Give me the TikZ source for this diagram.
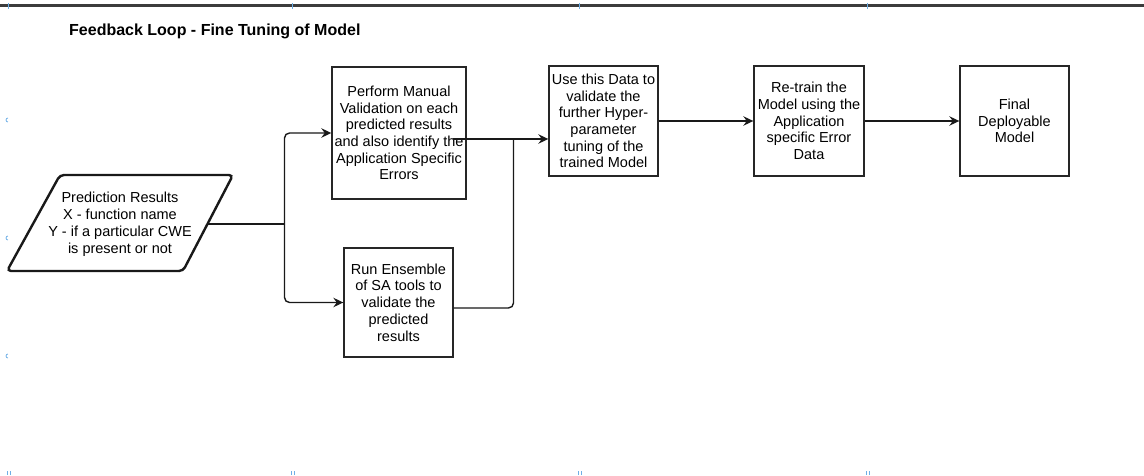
\documentclass[tikz,border=0pt]{standalone}
\usepackage{fontspec}
\setmainfont{Liberation Sans}
\usetikzlibrary{arrows.meta}

\definecolor{tickblue}{RGB}{110,175,230}
\definecolor{rulegray}{RGB}{60,60,60}

\tikzset{
  flowbox/.style={draw=black!85, line width=1.4pt, align=center, inner sep=0pt,
    font=\fontsize{14.5}{16.7}\selectfont},
  link/.style={draw=black!90, line width=1.4pt},
  flowarrow/.style={link, -{Stealth[length=10pt,width=9.5pt,inset=3.5pt]}},
  pagetick/.style={draw=tickblue, line width=0.8pt},
}

\begin{document}
\begin{tikzpicture}[x=1pt,y=-1pt]
\useasboundingbox (0,0) rectangle (1144,476);

% page rule along the top edge
\draw[rulegray, line width=2.2pt] (0,5.5) -- (1144,5.5);

% page-break marks
\foreach \px in {8,292,579,867} {
  \draw[pagetick] (\px,3) -- (\px,9);
  \draw[pagetick] (\px-1,471) -- (\px-1,475);
  \draw[pagetick] (\px+2,471) -- (\px+2,475);
}
\foreach \py in {124,242,360}
  \draw[pagetick] (8,\py-2) arc[start angle=90,end angle=270,radius=2];

% title
\node[anchor=west, font=\fontsize{16}{19}\bfseries\selectfont, inner sep=0pt]
  (title) at (69,31) {Feedback Loop - Fine Tuning of Model};

% input: prediction results (parallelogram)
\draw[black!90, line width=2.4pt, rounded corners=4pt]
  (60,175) -- (233,175) -- (183,271) -- (7,271) -- cycle;
\node[align=center, font=\fontsize{14.5}{16.9}\selectfont, inner sep=0pt]
  (pred) at (120,224.5) {Prediction Results\\X - function name\\Y - if a particular CWE\\is present or not};
\coordinate (predout) at (208,224);
\coordinate (split) at (284.5,224);

% processing steps
\node[flowbox, minimum width=134pt, minimum height=132pt] (manual) at (399,133)
  {Perform Manual\\Validation on each\\predicted results\\and also identify the\\Application Specific\\Errors};
\node[flowbox, minimum width=109pt, minimum height=109pt] (ens) at (398.5,302.5)
  {Run Ensemble\\of SA tools to\\validate the\\predicted\\results};
\node[flowbox, minimum width=109pt, minimum height=110pt] (usedata) at (603.5,121)
  {Use this Data to\\validate the\\further Hyper-\\parameter\\tuning of the\\trained Model};
\node[flowbox, minimum width=110pt, minimum height=110pt] (retrain) at (809,121)
  {Re-train the\\Model using the\\Application\\specific Error\\Data};
\node[flowbox, minimum width=109pt, minimum height=110pt] (final) at (1014.5,121)
  {Final\\Deployable\\Model};

% connectors
\draw[link] (predout) -- (split);
\draw[flowarrow, rounded corners=5pt] (split) |- (manual.west);
\draw[flowarrow, rounded corners=5pt] (split) |- (ens.west);

\coordinate (mout) at (453,139);
\coordinate (merge) at (513.5,139);
\draw[flowarrow] (mout) -- (usedata.west |- mout);
\draw[link, rounded corners=5pt] ([yshift=-5.5pt]ens.east) -| (merge);

\draw[flowarrow] (usedata) -- (retrain);
\draw[flowarrow] (retrain) -- (final);
\end{tikzpicture}
\end{document}
